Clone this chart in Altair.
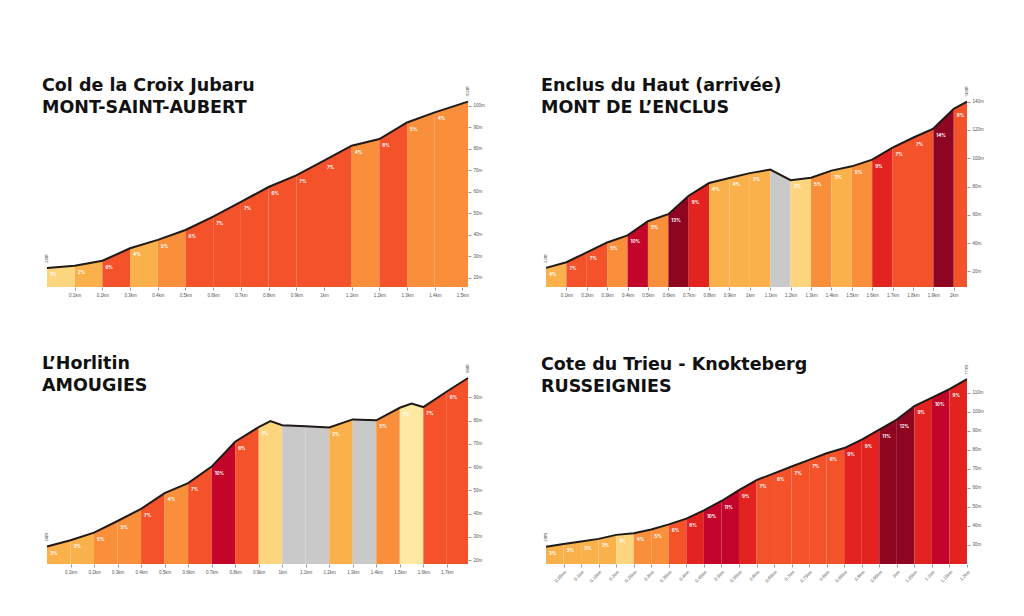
import altair as alt
import pandas as pd

# ---------------- colour classes (grade bands) ----------------
CLASS_DOMAIN = ["c0", "c1", "c2", "c3", "c4", "c5", "c6", "c7", "g"]
CLASS_COLORS = ["#fde9a2", "#fcd57e", "#fbb14b", "#f98f3b", "#f4522b",
                "#e2231f", "#c4052b", "#8e0522", "#c9c9c9"]

# ---------------- Panel 1 : Col de la Croix Jubaru ----------------
p1_title = ["Col de la Croix Jubaru", "MONT-SAINT-AUBERT"]
p1_km = [0, 0.1, 0.2, 0.3, 0.4, 0.5, 0.6, 0.7, 0.8, 0.9, 1.0, 1.1, 1.2, 1.3, 1.4, 1.52]
p1_elev = [24.6, 25.7, 28.0, 33.8, 37.7, 42.3, 48.5, 55.4, 62.3, 67.7, 74.6, 81.5, 84.6, 92.3, 97.0, 102.0]
p1_breaks = [0, 0.1, 0.2, 0.3, 0.4, 0.5, 0.6, 0.7, 0.8, 0.9, 1.0, 1.1, 1.2, 1.3, 1.4, 1.52]
p1_grades = ["1%", "2%", "6%", "4%", "5%", "6%", "7%", "7%", "6%", "7%", "7%", "4%", "8%", "5%", "4%"]
p1_classes = ["c1", "c2", "c4", "c2", "c3", "c4", "c4", "c4", "c4", "c4", "c4", "c3", "c4", "c3", "c3"]
p1_ydom = [15.8, 102.3]
p1_yticks = [20, 30, 40, 50, 60, 70, 80, 90, 100]
p1_xticks = [0.1, 0.2, 0.3, 0.4, 0.5, 0.6, 0.7, 0.8, 0.9, 1.0, 1.1, 1.2, 1.3, 1.4, 1.5]
p1_ends = ["24m", "102m"]

# ---------------- Panel 2 : Enclus du Haut ----------------
p2_title = ["Enclus du Haut (arrivée)", "MONT DE L\u2019ENCLUS"]
p2_km = [0, 0.1, 0.2, 0.3, 0.4, 0.5, 0.6, 0.7, 0.8, 0.9, 1.0, 1.1, 1.2, 1.3, 1.4, 1.5,
         1.6, 1.7, 1.8, 1.9, 2.0, 2.065]
p2_elev = [22.5, 26.5, 33.5, 40.5, 45.5, 55.5, 60.5, 73.5, 82.5, 86.0, 89.5, 92.0, 84.5,
           86.3, 91.3, 94.3, 99.0, 107.5, 114.5, 121.0, 135.0, 140.0]
p2_breaks = p2_km
p2_grades = ["4%", "7%", "7%", "5%", "10%", "5%", "13%", "9%", "4%", "4%", "3%", "", "2%",
             "5%", "3%", "5%", "9%", "7%", "7%", "14%", "8%"]
p2_classes = ["c2", "c4", "c4", "c3", "c6", "c3", "c7", "c5", "c2", "c2", "c2", "g", "c1",
              "c3", "c2", "c3", "c5", "c4", "c4", "c7", "c4"]
p2_ydom = [9.0, 140.5]
p2_yticks = [20, 40, 60, 80, 100, 120, 140]
p2_xticks = [0.1, 0.2, 0.3, 0.4, 0.5, 0.6, 0.7, 0.8, 0.9, 1.0, 1.1, 1.2, 1.3, 1.4, 1.5,
             1.6, 1.7, 1.8, 1.9, 2.0]
p2_ends = ["22m", "140m"]

# ---------------- Panel 3 : L'Horlitin ----------------
p3_title = ["L\u2019Horlitin", "AMOUGIES"]
p3_km = [0, 0.1, 0.2, 0.3, 0.4, 0.5, 0.6, 0.7, 0.8, 0.9, 0.95, 1.0, 1.1, 1.2, 1.3, 1.4,
         1.5, 1.55, 1.6, 1.7, 1.79]
p3_elev = [25.8, 28.5, 31.8, 36.8, 42.0, 48.8, 53.1, 60.2, 70.9, 77.2, 79.8, 78.0, 77.5,
           77.0, 80.5, 80.1, 85.5, 87.3, 85.8, 92.5, 98.3]
p3_breaks = [0, 0.1, 0.2, 0.3, 0.4, 0.5, 0.6, 0.7, 0.8, 0.9, 1.0, 1.1, 1.2, 1.3, 1.4, 1.5,
             1.6, 1.7, 1.79]
p3_grades = ["3%", "3%", "5%", "5%", "7%", "4%", "7%", "10%", "6%", "1%", "", "", "2%", "",
             "5%", "1%", "7%", "6%"]
p3_classes = ["c2", "c2", "c3", "c3", "c4", "c3", "c4", "c6", "c4", "c1", "g", "g", "c2", "g",
              "c3", "c0", "c4", "c4"]
p3_ydom = [18.3, 98.3]
p3_yticks = [20, 30, 40, 50, 60, 70, 80, 90]
p3_xticks = [0.1, 0.2, 0.3, 0.4, 0.5, 0.6, 0.7, 0.8, 0.9, 1.0, 1.1, 1.2, 1.3, 1.4, 1.5,
             1.6, 1.7]
p3_ends = ["26m", "98m"]

# ---------------- Panel 4 : Cote du Trieu ----------------
p4_title = ["Cote du Trieu - Knokteberg", "RUSSEIGNIES"]
p4_km = [0, 0.05, 0.1, 0.15, 0.2, 0.25, 0.3, 0.35, 0.4, 0.45, 0.5, 0.55, 0.6, 0.65, 0.7,
         0.75, 0.8, 0.85, 0.9, 0.95, 1.0, 1.05, 1.1, 1.15, 1.2]
p4_elev = [29.1, 30.5, 31.8, 33.2, 35.3, 36.2, 38.1, 40.8, 43.8, 48.2, 53.1, 58.8, 64.1,
           67.6, 71.2, 74.7, 78.2, 80.9, 85.3, 90.6, 95.9, 103.0, 107.4, 111.8, 117.1]
p4_breaks = p4_km
p4_grades = ["3%", "3%", "3%", "3%", "1%", "4%", "5%", "6%", "8%", "10%", "11%", "9%", "7%",
             "6%", "7%", "7%", "6%", "9%", "9%", "11%", "12%", "9%", "10%", "9%"]
p4_classes = ["c2", "c2", "c2", "c2", "c1", "c3", "c3", "c4", "c5", "c6", "c6", "c5", "c4",
              "c4", "c4", "c4", "c4", "c5", "c5", "c7", "c7", "c5", "c6", "c5"]
p4_ydom = [20.0, 117.7]
p4_yticks = [30, 40, 50, 60, 70, 80, 90, 100, 110]
p4_xticks = p4_km[1:]
p4_ends = ["29m", "117m"]

W, H = 421, 186
TITLE_FONT = "DejaVu Sans"


def panel(title, km, elev, breaks, grades, classes, ydom, yticks, xticks, ends, xangle=0):
    area_rows = []
    label_rows = []
    for i in range(len(breaks) - 1):
        a, b = breaks[i], breaks[i + 1]
        for k, e in zip(km, elev):
            if a - 1e-9 <= k <= b + 1e-9:
                area_rows.append({"seg": i, "km": k, "elev": e, "cls": classes[i]})
        if grades[i]:
            e0 = elev[km.index(a)]
            label_rows.append({"km": a, "elev": e0, "txt": grades[i]})
    area_df = pd.DataFrame(area_rows)
    prof_df = pd.DataFrame({"km": km, "elev": elev})
    lab_df = pd.DataFrame(label_rows)
    end_df = pd.DataFrame({"km": [km[0], km[-1]], "elev": [elev[0], elev[-1]], "txt": ends})

    xscale = alt.Scale(domain=[0, km[-1]], nice=False, zero=False)
    yscale = alt.Scale(domain=ydom, nice=False, zero=False)
    xaxis = alt.Axis(values=xticks, title=None, grid=False, labelFontSize=4.5,
                     labelColor="#555555", tickColor="#999999", tickSize=3,
                     domain=False, labelAngle=xangle, labelPadding=2,
                     labelOverlap=False, labelFlush=False, labelBound=False,
                     labelExpr="format(datum.value, '.2~f') + 'km'")
    yaxis = alt.Axis(orient="right", values=yticks, title=None, grid=False,
                     labelFontSize=4.5, labelColor="#555555", tickColor="#999999",
                     tickSize=3, domain=False, labelPadding=2,
                     labelOverlap=False, labelFlush=False, labelBound=False,
                     labelExpr="datum.value + 'm'")
    X = alt.X("km:Q", scale=xscale, axis=xaxis)
    Y = alt.Y("elev:Q", scale=yscale, axis=yaxis)

    area = alt.Chart(area_df).mark_area(clip=True).encode(
        x=X, y=Y,
        y2=alt.datum(ydom[0]),
        color=alt.Color("cls:N", scale=alt.Scale(domain=CLASS_DOMAIN, range=CLASS_COLORS),
                        legend=None),
        detail="seg:N",
    )
    line = alt.Chart(prof_df).mark_line(color="#1f1a17", strokeWidth=2).encode(x=X, y=Y)
    labels = alt.Chart(lab_df).mark_text(
        align="left", baseline="middle", dx=3, dy=7, fontSize=4.5, fontWeight="bold",
        color="white", font="Inter").encode(x=X, y=Y, text="txt:N")
    endlab = alt.Chart(end_df).mark_text(
        align="left", baseline="middle", angle=270, dx=5, fontSize=4, color="#555555",
        font="Inter").encode(x=X, y=Y, text="txt:N")

    return alt.layer(area, line, labels, endlab).properties(
        width=W, height=H,
        title=alt.TitleParams(text=title, anchor="start", fontSize=17.5, font=TITLE_FONT,
                              fontWeight="bold", lineHeight=22, offset=-30, dx=-1,
                              color="#111111"),
    )


c1 = panel(p1_title, p1_km, p1_elev, p1_breaks, p1_grades, p1_classes, p1_ydom, p1_yticks,
           p1_xticks, p1_ends)
c2 = panel(p2_title, p2_km, p2_elev, p2_breaks, p2_grades, p2_classes, p2_ydom, p2_yticks,
           p2_xticks, p2_ends)
c3 = panel(p3_title, p3_km, p3_elev, p3_breaks, p3_grades, p3_classes, p3_ydom, p3_yticks,
           p3_xticks, p3_ends)
c4 = panel(p4_title, p4_km, p4_elev, p4_breaks, p4_grades, p4_classes, p4_ydom, p4_yticks,
           p4_xticks, p4_ends, xangle=-45)

chart = alt.vconcat(
    alt.hconcat(c1, c2, spacing=56),
    alt.hconcat(c3, c4, spacing=59),
    spacing=58,
).properties(
    padding={"left": 34, "top": 68, "right": 5, "bottom": 5},
    background="white",
).configure_view(stroke=None).configure_axis(labelOverlap=False)

chart.save("out.html", embed_options={"renderer": "svg", "actions": False})
